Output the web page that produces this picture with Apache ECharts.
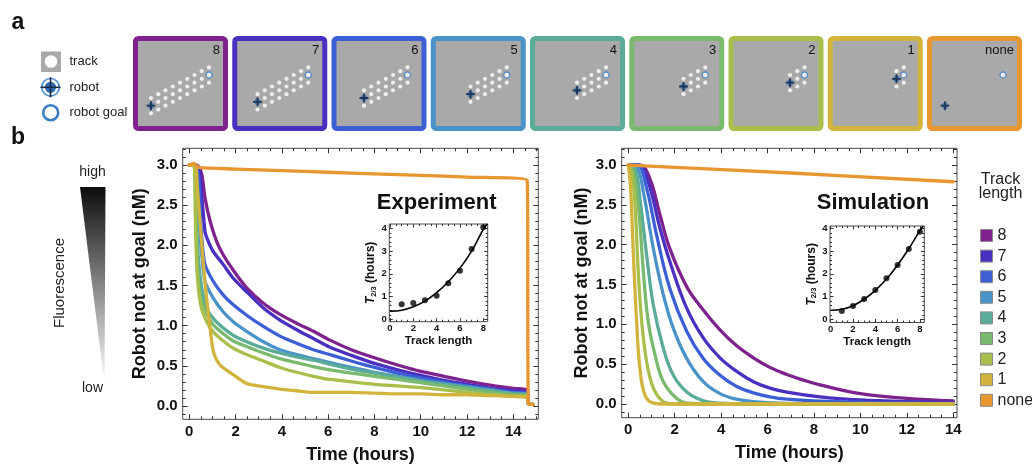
<!DOCTYPE html>
<html>
<head>
<meta charset="utf-8">
<script src="https://cdn.jsdelivr.net/npm/echarts@6/dist/echarts.min.js"></script>
<style>
html,body{margin:0;padding:0;background:#fff;}
#chart{width:1032px;height:465px;}
</style>
</head>
<body>
<div id="chart"></div>
<script>
const FONT = '"Liberation Sans", Arial, Helvetica, sans-serif';

// Track lengths: tile captions, steps on the track, colours
const trackNames = ['8', '7', '6', '5', '4', '3', '2', '1', 'none'];
const trackSteps = [8, 7, 6, 5, 4, 3, 2, 1, 0];
const trackColors = ['#7e228e', '#4a2fc0', '#3d5fd6', '#4a93c9', '#5aab97', '#7aba6e', '#a8bf4c', '#d2b43d', '#e8962f'];

// Main plot ticks
const timeTicks = [0, 2, 4, 6, 8, 10, 12, 14];
const concTicks = [0, 0.5, 1, 1.5, 2, 2.5, 3];
// Inset ticks
const lenTicks = [0, 2, 4, 6, 8];
const t23Ticks = [0, 1, 2, 3, 4];

// Experiment: robot not at goal (nM) against time (hours)
const exp8 = [[0,3.0],[0.25,3.0],[0.4,2.98],[0.54,2.88],[0.68,2.59],[0.9,2.3],[1.18,2.05],[1.47,1.88],[1.9,1.69],[2.48,1.47],[3.2,1.28],[3.92,1.14],[4.64,1.03],[5.36,0.93],[6.08,0.82],[7,0.7],[8,0.6],[9,0.51],[10,0.43],[11,0.37],[12,0.31],[13,0.26],[14,0.22],[14.6,0.2],[14.65,0.03],[14.85,0.02]];
const exp7 = [[0,3.0],[0.25,3.0],[0.42,2.95],[0.54,2.62],[0.68,2.17],[0.82,2.05],[1.04,1.92],[1.47,1.76],[1.9,1.59],[2.48,1.42],[3.2,1.22],[3.92,1.07],[4.64,0.95],[5.36,0.84],[6.08,0.73],[7,0.63],[8,0.53],[9,0.45],[10,0.38],[11,0.32],[12,0.27],[13,0.22],[14,0.19],[14.6,0.17],[14.65,0.03],[14.85,0.02]];
const exp6 = [[0,3.0],[0.25,3.0],[0.4,2.85],[0.46,2.5],[0.54,2.09],[0.68,1.76],[1.04,1.55],[1.47,1.38],[1.9,1.26],[2.48,1.13],[3.2,0.99],[3.92,0.87],[4.64,0.78],[5.36,0.7],[6.08,0.64],[7,0.56],[8,0.48],[9,0.41],[10,0.35],[11,0.3],[12,0.25],[13,0.21],[14,0.17],[14.6,0.16],[14.65,0.03],[14.85,0.02]];
const exp5 = [[0,3.0],[0.2,3.0],[0.35,2.7],[0.45,2.2],[0.54,1.88],[0.68,1.55],[1.04,1.34],[1.47,1.17],[1.9,1.05],[2.48,0.93],[3.2,0.8],[3.92,0.7],[4.64,0.64],[5.36,0.59],[6.08,0.54],[7,0.48],[8,0.42],[9,0.37],[10,0.32],[11,0.28],[12,0.24],[13,0.2],[14,0.16],[14.6,0.15],[14.65,0.03],[14.85,0.02]];
const exp4 = [[0,3.0],[0.2,3.0],[0.3,2.4],[0.4,1.8],[0.54,1.47],[0.75,1.22],[1.04,1.09],[1.47,0.97],[1.9,0.88],[2.48,0.8],[3.2,0.72],[3.92,0.66],[4.64,0.61],[5.36,0.57],[6.08,0.52],[7,0.46],[8,0.41],[9,0.36],[10,0.31],[11,0.27],[12,0.23],[13,0.19],[14,0.15],[14.6,0.14],[14.65,0.03],[14.85,0.02]];
const exp3 = [[0,3.0],[0.2,3.0],[0.28,2.3],[0.36,1.7],[0.5,1.35],[0.75,1.15],[1.04,1.01],[1.47,0.9],[1.9,0.81],[2.48,0.74],[3.2,0.66],[3.92,0.59],[4.64,0.54],[5.36,0.49],[6.08,0.45],[7,0.41],[8,0.37],[9,0.33],[10,0.29],[11,0.25],[12,0.21],[13,0.17],[14,0.14],[14.6,0.13],[14.65,0.03],[14.85,0.02]];
const exp2 = [[0,3.0],[0.2,3.0],[0.27,2.2],[0.35,1.6],[0.5,1.25],[0.75,1.05],[1.04,0.92],[1.47,0.81],[1.9,0.72],[2.48,0.64],[3.2,0.56],[3.92,0.48],[4.64,0.42],[5.36,0.37],[6.08,0.33],[7,0.3],[8,0.27],[9,0.25],[10,0.23],[11,0.2],[12,0.17],[13,0.14],[14,0.12],[14.6,0.11],[14.65,0.03],[14.85,0.02]];
const exp1 = [[0,3.0],[0.25,3.0],[0.35,2.7],[0.46,2.3],[0.61,1.76],[0.75,1.34],[0.9,0.97],[1.04,0.68],[1.33,0.51],[1.9,0.39],[2.48,0.28],[3.2,0.24],[3.92,0.21],[4.64,0.19],[5.36,0.17],[6.08,0.17],[7,0.17],[8,0.16],[9,0.15],[10,0.15],[11,0.14],[12,0.14],[13,0.13],[14,0.12],[14.6,0.11],[14.65,0.03],[14.85,0.02]];
const expNone = [[0,3.0],[0.2,3.02],[0.4,2.97],[2,2.95],[4,2.93],[6,2.91],[8,2.89],[10,2.87],[12,2.85],[14.6,2.81],[14.65,0.03],[14.85,0.02]];

// Simulation: robot not at goal (nM) against time (hours)
const sim8 = [[0,3.0],[0.5,3.0],[0.93,2.83],[1.37,2.37],[1.79,1.95],[2.52,1.47],[3.23,1.18],[3.95,0.93],[4.67,0.73],[5.39,0.58],[6.1,0.46],[6.83,0.37],[7.54,0.3],[8.26,0.24],[10,0.13],[12,0.07],[14,0.04]];
const sim7 = [[0,3.0],[0.45,3.0],[0.86,2.79],[1.37,2.2],[1.79,1.79],[2.52,1.2],[3.23,0.83],[3.95,0.58],[4.67,0.41],[5.39,0.28],[6.1,0.2],[6.83,0.15],[8.26,0.09],[10,0.05],[12,0.03],[14,0.02]];
const sim6 = [[0,3.0],[0.4,3.0],[0.79,2.71],[1.22,2.12],[1.79,1.45],[2.52,0.91],[3.23,0.57],[3.95,0.36],[4.67,0.22],[5.39,0.14],[6.1,0.09],[6.83,0.06],[8.26,0.035],[10,0.02],[12,0.01],[14,0.005]];
const sim5 = [[0,3.0],[0.35,2.98],[0.65,2.66],[1.08,1.95],[1.51,1.37],[1.94,0.95],[2.52,0.57],[3.23,0.28],[3.95,0.13],[4.67,0.06],[5.39,0.03],[6.5,0.01],[8,0.005],[14,0]];
const sim4 = [[0,3.0],[0.3,2.95],[0.5,2.58],[0.79,1.87],[1.08,1.24],[1.51,0.7],[1.94,0.36],[2.52,0.15],[3.23,0.04],[3.95,0.01],[5,0],[14,0]];
const sim3 = [[0,3.0],[0.2,2.95],[0.43,2.5],[0.65,1.66],[0.86,1.03],[1.15,0.62],[1.51,0.28],[2.09,0.07],[2.6,0.01],[3.5,0],[14,0]];
const sim2 = [[0,3.0],[0.15,2.9],[0.29,2.5],[0.43,1.66],[0.58,1.03],[0.79,0.53],[1.08,0.2],[1.51,0.03],[2,0],[14,0]];
const sim1 = [[0,3.0],[0.1,2.7],[0.22,1.87],[0.36,1.03],[0.5,0.45],[0.72,0.11],[1.08,0.01],[1.5,0],[14,0]];
const simNone = [[0,3.0],[7,2.9],[14,2.79]];

// Insets: T2/3 (hours) against track length
const insetLength = [1, 2, 3, 4, 5, 6, 7, 8];
const expT23 = [0.66, 0.72, 0.84, 1.04, 1.58, 2.14, 3.09, 4.05];
const expFit = [[0,0.36],[1,0.4],[2,0.55],[3,0.8],[4,1.17],[5,1.65],[6,2.25],[7,3.0],[8,3.95],[8.35,4.2]];
const simT23 = [0.36, 0.58, 0.89, 1.29, 1.8, 2.39, 3.09, 3.85];
const simFit = [[0,0.4],[1,0.44],[2,0.6],[3,0.88],[4,1.27],[5,1.77],[6,2.39],[7,3.1],[8,3.9],[8.3,4.1]];

const expSeries = [exp8, exp7, exp6, exp5, exp4, exp3, exp2, exp1, expNone];
const simSeries = [sim8, sim7, sim6, sim5, sim4, sim3, sim2, sim1, simNone];

function range(a, b, step) {
  const out = [];
  for (let k = 0; a + k * step <= b + 1e-9; k++) out.push(+(a + k * step).toFixed(4));
  return out;
}

const grids = [];
const xAxes = [];
const yAxes = [];
const series = [];
const graphics = [];

// ---------- panel a: track tiles ----------
const TILE_LEFT = 133, TILE_PITCH = 99.25, TILE_TOP = 36, TILE_SIZE = 95;

function tilePoints(n) {
  const pts = [];
  const start = n > 0 ? 8 - n : 0;
  if (n > 0) {
    for (let i = 0; i <= n; i++) {
      const u = start + i;
      for (const j of [-1, 0, 1]) {
        if (j === 0 && (i === 0 || i === n)) continue;
        pts.push({ value: [u, j + (u - 8) / 2], symbolSize: 4.2, itemStyle: { color: '#ffffff' } });
      }
    }
  }
  // goal
  pts.push({ value: [8, 0], symbolSize: 6, itemStyle: { color: '#ffffff', borderColor: '#3a7dc4', borderWidth: 1.4 } });
  // robot: blue disc with a dark cross
  pts.push({ value: [start, (start - 8) / 2], symbolSize: 6.5, itemStyle: { color: '#3a78bd' } });
  pts.push({ value: [start, (start - 8) / 2], symbol: 'path://M4,0L6,0L6,4L10,4L10,6L6,6L6,10L4,10L4,6L0,6L0,4L4,4Z', symbolSize: 9, itemStyle: { color: '#0f1f3d' } });
  return pts;
}

trackSteps.forEach((n, i) => {
  const left = TILE_LEFT + i * TILE_PITCH;
  graphics.push({
    type: 'rect', z: 0,
    shape: { x: left + 2.5, y: TILE_TOP + 2.5, width: TILE_SIZE - 5, height: TILE_SIZE - 5, r: 3 },
    style: { fill: '#a9a9a9', stroke: trackColors[i], lineWidth: 5 }
  });
  graphics.push({
    type: 'text', z: 1, x: left + 87, y: TILE_TOP + 14,
    style: { text: trackNames[i], font: '13px ' + FONT, fill: '#111', align: 'right', textAlign: 'right', verticalAlign: 'middle', textVerticalAlign: 'middle' }
  });
  const gi = grids.length;
  grids.push({ left: left, top: TILE_TOP, width: TILE_SIZE, height: TILE_SIZE, show: false });
  xAxes.push({ type: 'value', gridIndex: gi, min: -18 / 7.25, max: 77 / 7.25, show: false });
  yAxes.push({ type: 'value', gridIndex: gi, min: -56 / 7.67, max: 39 / 7.67, show: false });
  series.push({
    type: 'scatter', xAxisIndex: xAxes.length - 1, yAxisIndex: yAxes.length - 1,
    data: tilePoints(n), symbol: 'circle', silent: true, z: 3, animation: false
  });
});

// ---------- framed plots ----------
function framedPlot(box, xr, yr, xo, yo) {
  const gi = grids.length;
  grids.push({ left: box.left, top: box.top, width: box.width, height: box.height, show: true, borderColor: '#4a4a4a', borderWidth: 1, backgroundColor: 'transparent' });
  const mk = (pos, vals, len, main, o, r) => {
    const ax = {
      type: 'value', gridIndex: gi, min: r[0], max: r[1], position: pos,
      axisLine: { show: false, onZero: false }, splitLine: { show: false },
      axisTick: { show: true, inside: true, length: len, customValues: vals, lineStyle: { color: '#333', width: 1 } },
      axisLabel: { show: false },
      name: ''
    };
    if (main) {
      ax.axisLabel = { show: true, customValues: o.majors, formatter: o.formatter, margin: o.labelMargin, color: '#111', fontFamily: FONT, fontWeight: 'bold', fontSize: o.labelSize };
      ax.name = o.name;
      ax.nameLocation = 'middle';
      ax.nameGap = o.nameGap;
      ax.nameTextStyle = Object.assign({ color: '#111', fontFamily: FONT, fontWeight: 'bold', fontSize: o.nameSize }, o.nameStyle || {});
    }
    return ax;
  };
  const xi = xAxes.length, yi = yAxes.length;
  xAxes.push(mk('bottom', xo.majors, xo.majorLen, true, xo, xr));
  xAxes.push(mk('bottom', xo.minors, xo.minorLen, false, xo, xr));
  xAxes.push(mk('top', xo.majors, xo.majorLen, false, xo, xr));
  xAxes.push(mk('top', xo.minors, xo.minorLen, false, xo, xr));
  yAxes.push(mk('left', yo.majors, yo.majorLen, true, yo, yr));
  yAxes.push(mk('left', yo.minors, yo.minorLen, false, yo, yr));
  yAxes.push(mk('right', yo.majors, yo.majorLen, false, yo, yr));
  yAxes.push(mk('right', yo.minors, yo.minorLen, false, yo, yr));
  return { xi, yi };
}

const mainX = (gap) => ({ majors: timeTicks, minors: range(0, 15, 0.5), majorLen: 5, minorLen: 3, formatter: v => String(v), labelMargin: 5, labelSize: 15, name: 'Time (hours)', nameGap: gap, nameSize: 18 });
const mainY = (gap) => ({ majors: concTicks, minors: range(-0.1, 3.2, 0.1), majorLen: 5, minorLen: 3, formatter: v => v.toFixed(1), labelMargin: 5, labelSize: 15, name: 'Robot not at goal (nM)', nameGap: gap, nameSize: 18 });
const insetX = { majors: lenTicks, minors: range(0, 8, 0.5), majorLen: 3.5, minorLen: 2, formatter: v => String(v), labelMargin: 2, labelSize: 9.5, name: 'Track length', nameGap: 10, nameSize: 11.5 };
const insetY = (gap) => ({
  majors: t23Ticks, minors: range(0, 4, 0.2), majorLen: 3.5, minorLen: 2, formatter: v => String(v), labelMargin: 2.5, labelSize: 9.5,
  name: '{i|T}{s|2/3} (hours)', nameGap: gap, nameSize: 12,
  nameStyle: { rich: { i: { fontStyle: 'italic', fontWeight: 'bold', fontSize: 12, fontFamily: FONT, color: '#111' }, s: { fontWeight: 'bold', fontSize: 7.5, fontFamily: FONT, color: '#111', verticalAlign: 'bottom', padding: [6, 0, 0, 0] } } }
});

function addCurves(ax, sets, smooth) {
  sets.forEach((d, k) => {
    series.push({
      type: 'line', name: trackNames[k], data: d, xAxisIndex: ax.xi, yAxisIndex: ax.yi,
      showSymbol: false, symbol: 'none', smooth: smooth,
      lineStyle: { color: trackColors[k], width: 3.3, cap: 'round', join: 'round' },
      itemStyle: { color: trackColors[k] }, z: 3, silent: true, animation: false
    });
  });
}

function addInset(ax, ys, fit) {
  series.push({ type: 'line', name: 'fit', data: fit, xAxisIndex: ax.xi, yAxisIndex: ax.yi, showSymbol: false, symbol: 'none', smooth: 0.4, lineStyle: { color: '#000', width: 1.6 }, z: 4, silent: true, animation: false });
  series.push({ type: 'scatter', name: 'T23', data: insetLength.map((x, k) => [x, ys[k]]), xAxisIndex: ax.xi, yAxisIndex: ax.yi, symbolSize: 6, itemStyle: { color: '#000' }, z: 5, silent: true, animation: false });
}

// Experiment
const expAx = framedPlot({ left: 182.7, top: 148.3, width: 355.6, height: 271 }, [-0.285, 15.08], [-0.1656, 3.208], mainX(27), mainY(34));
addCurves(expAx, expSeries, 0.25);
const expIn = framedPlot({ left: 389.3, top: 224, width: 98.4, height: 97.7 }, [-0.06, 8.38], [-0.105, 4.19], insetX, insetY(9));
addInset(expIn, expT23, expFit);

// Simulation
const simAx = framedPlot({ left: 621.7, top: 148.3, width: 335.3, height: 269.4 }, [-0.284, 14.16], [-0.172, 3.21], mainX(26), mainY(31));
addCurves(simAx, simSeries, 0.4);
const simIn = framedPlot({ left: 830, top: 226, width: 94.3, height: 96.5 }, [-0.06, 8.39], [-0.14, 4.1], insetX, insetY(10));
addInset(simIn, simT23, simFit);

// ---------- annotations ----------
const txt = (x, y, text, font, extra) => ({
  type: 'text', x: x, y: y, z: 6,
  style: Object.assign({ text: text, font: font, fill: '#111', align: 'center', textAlign: 'center', verticalAlign: 'middle', textVerticalAlign: 'middle' }, extra || {})
});

graphics.push(txt(18, 23, 'a', 'bold 23px ' + FONT));
graphics.push(txt(18, 138, 'b', 'bold 23px ' + FONT));

// icon key for panel a
graphics.push({ type: 'rect', shape: { x: 41, y: 51.5, width: 20, height: 20.5 }, style: { fill: '#a9a9a9' } });
graphics.push({ type: 'circle', shape: { cx: 51, cy: 61.5, r: 6.3 }, style: { fill: '#ffffff' } });
graphics.push({ type: 'circle', shape: { cx: 50.5, cy: 87.3, r: 8.8 }, style: { fill: 'none', stroke: '#4f8fcf', lineWidth: 1.6 } });
graphics.push({ type: 'circle', shape: { cx: 50.5, cy: 87.3, r: 5.6 }, style: { fill: '#2f6db0' } });
graphics.push({ type: 'line', shape: { x1: 40.5, y1: 87.3, x2: 60.5, y2: 87.3 }, style: { stroke: '#152a4a', lineWidth: 1.6 } });
graphics.push({ type: 'line', shape: { x1: 50.5, y1: 77.3, x2: 50.5, y2: 97.3 }, style: { stroke: '#152a4a', lineWidth: 1.6 } });
graphics.push({ type: 'circle', shape: { cx: 50.7, cy: 112.7, r: 7.5 }, style: { fill: '#ffffff', stroke: '#3a7dc4', lineWidth: 2.6 } });
graphics.push(txt(69.5, 61.5, 'track', '13px ' + FONT, { align: 'left', textAlign: 'left', fill: '#222' }));
graphics.push(txt(69.5, 87.5, 'robot', '13px ' + FONT, { align: 'left', textAlign: 'left', fill: '#222' }));
graphics.push(txt(69.5, 112, 'robot goal', '13px ' + FONT, { align: 'left', textAlign: 'left', fill: '#222' }));

// fluorescence wedge
graphics.push({
  type: 'polygon', shape: { points: [[80, 187], [105.5, 187], [104.5, 384]] },
  style: { fill: { type: 'linear', x: 0, y: 0, x2: 0, y2: 1, colorStops: [{ offset: 0, color: '#0c0c0c' }, { offset: 1, color: '#ffffff' }] } }
});
graphics.push(txt(92.5, 172, 'high', '14px ' + FONT, { fill: '#222' }));
graphics.push(txt(92.5, 388, 'low', '14px ' + FONT, { fill: '#222' }));
graphics.push(Object.assign(txt(60, 283, 'Fluorescence', '15px ' + FONT, { fill: '#222' }), { rotation: Math.PI / 2 }));

// plot titles
graphics.push(txt(436.7, 203, 'Experiment', 'bold 22px ' + FONT));
graphics.push(txt(873, 203, 'Simulation', 'bold 22px ' + FONT));

// legend heading
graphics.push(txt(1000.5, 187, 'Track\nlength', '16px ' + FONT, { fill: '#222', lineHeight: 14 }));

const chart = echarts.init(document.getElementById('chart'), null, { renderer: 'canvas' });
chart.setOption({
  animation: false,
  backgroundColor: '#ffffff',
  textStyle: { fontFamily: FONT },
  grid: grids.map(g => Object.assign({ outerBoundsMode: 'none', containLabel: false }, g)),
  xAxis: xAxes,
  yAxis: yAxes,
  legend: {
    data: trackNames, orient: 'vertical', left: 975, top: 222.5,
    itemWidth: 12, itemHeight: 12, itemGap: 4.6, icon: 'rect', selectedMode: false,
    itemStyle: { borderColor: '#8a8a8a', borderWidth: 1 },
    textStyle: { fontSize: 16, color: '#222', fontFamily: FONT }
  },
  graphic: { elements: graphics },
  series: series
});
</script>
</body>
</html>
